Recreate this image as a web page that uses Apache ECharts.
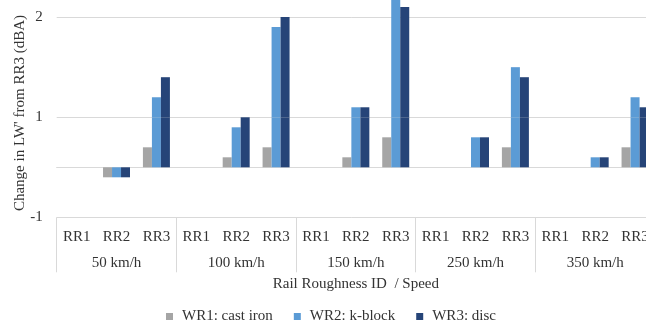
<!DOCTYPE html>
<html>
<head>
<meta charset="utf-8">
<title>Change in LW' by rail roughness and speed</title>
<script src="https://cdn.jsdelivr.net/npm/echarts@6/dist/echarts.min.js"></script>
<style>
  html, body { margin: 0; padding: 0; background: #ffffff; }
  #chart { width: 646px; height: 325px; }
</style>
</head>
<body>
<div id="chart"></div>
<script>
// Speed groups and rail roughness IDs along the x axis
const speeds = ['50 km/h', '100 km/h', '150 km/h', '250 km/h', '350 km/h'];
const roughness = ['RR1', 'RR2', 'RR3'];

// Change in LW' from RR3 (dBA), ordered speed by speed, RR1..RR3 within each
const wr1CastIron = [0, -0.2, 0.4,  0, 0.2, 0.4,  0, 0.2, 0.6,  0, 0, 0.4,  0, 0, 0.4];
const wr2KBlock   = [0, -0.2, 1.2,  0, 0.8, 1.9,  0, 1.1, 2.3,  0, 0.6, 1.5,  0, 0.2, 1.2];
const wr3Disc     = [0, -0.2, 1.4,  0, 1.0, 2.0,  0, 1.1, 2.1,  0, 0.6, 1.4,  0, 0.2, 1.1];

// Value axis ticks: the axis is drawn in two stacked parts, the part above 1
// at twice the scale of the part from -1 to 1
const lowerTicks = [-1, 0, 1];
const lowerTickLabels = [-1, 1];
const upperTicks = [2];
const upperTickLabels = [2];

const seriesNames = ['WR1: cast iron', 'WR2: k-block', 'WR3: disc'];
const seriesValues = [wr1CastIron, wr2KBlock, wr3Disc];
const seriesColors = ['#a5a5a5', '#5b9bd5', '#264478'];

const categories = speeds.flatMap(() => roughness);

const FONT = '"Liberation Serif", "Times New Roman", serif';
const TEXT = '#333333';
const GRID_LINE = '#d9d9d9';

const chart = echarts.init(document.getElementById('chart'), null, { renderer: 'canvas' });

const series = [];
[0, 1].forEach(function (part) {
  seriesNames.forEach(function (name, i) {
    series.push({
      type: 'bar',
      name: name,
      xAxisIndex: part === 0 ? 0 : 2,
      yAxisIndex: part,
      data: seriesValues[i],
      barWidth: 9,
      barGap: '0%',
      clip: true,
      itemStyle: { color: seriesColors[i] },
      emphasis: { disabled: true },
      animation: false
    });
  });
});

chart.setOption({
  animation: false,
  backgroundColor: '#ffffff',
  textStyle: { fontFamily: FONT },
  grid: [
    // lower part: -1 .. 1
    { left: 56.7, right: -9, top: 117.3, height: 100, containLabel: false, outerBoundsMode: 'none' },
    // upper part: 1 .. 2.2
    { left: 56.7, right: -9, top: -3, height: 120.3, containLabel: false, outerBoundsMode: 'none' }
  ],
  xAxis: [
    {
      type: 'category',
      gridIndex: 0,
      position: 'bottom',
      data: categories,
      axisLine: { show: true, lineStyle: { color: GRID_LINE, width: 1 } },
      axisTick: { show: false },
      axisLabel: { interval: 0, margin: 12, fontSize: 15, color: TEXT, fontFamily: FONT },
      splitLine: { show: false }
    },
    {
      type: 'category',
      gridIndex: 0,
      position: 'bottom',
      data: speeds,
      axisLine: { show: false },
      axisTick: { show: true, interval: 0, length: 55, lineStyle: { color: GRID_LINE, width: 1 } },
      axisLabel: { interval: 0, margin: 38.5, fontSize: 15, color: TEXT, fontFamily: FONT },
      splitLine: { show: false },
      name: 'Rail Roughness ID  / Speed',
      nameLocation: 'middle',
      nameGap: 59,
      nameTextStyle: { fontSize: 15, color: TEXT, fontFamily: FONT }
    },
    {
      type: 'category',
      gridIndex: 1,
      data: categories,
      show: false
    }
  ],
  yAxis: [
    {
      type: 'value',
      gridIndex: 0,
      min: -1,
      max: 1,
      axisLine: { show: false },
      axisTick: { show: false, customValues: lowerTicks },
      axisLabel: { customValues: lowerTickLabels, margin: 14, fontSize: 15, color: TEXT, fontFamily: FONT },
      splitLine: { show: true, lineStyle: { color: GRID_LINE, width: 1 } }
    },
    {
      type: 'value',
      gridIndex: 1,
      min: 1,
      max: 2.2,
      axisLine: { show: false },
      axisTick: { show: false, customValues: upperTicks },
      axisLabel: { customValues: upperTickLabels, margin: 14, fontSize: 15, color: TEXT, fontFamily: FONT },
      splitLine: { show: true, lineStyle: { color: GRID_LINE, width: 1 } }
    }
  ],
  legend: {
    data: seriesNames,
    left: 161,
    top: 304,
    icon: 'rect',
    itemWidth: 7,
    itemHeight: 7,
    itemGap: 21,
    selectedMode: false,
    textStyle: { fontSize: 15, color: TEXT, fontFamily: FONT, padding: [0, 0, 0, 4] }
  },
  graphic: [
    {
      type: 'text',
      x: 20,
      y: 113,
      rotation: Math.PI / 2,
      style: {
        text: "Change in LW' from RR3 (dBA)",
        font: '15px ' + FONT,
        fill: TEXT,
        align: 'center',
        verticalAlign: 'middle'
      }
    }
  ],
  series: series
});
</script>
</body>
</html>
